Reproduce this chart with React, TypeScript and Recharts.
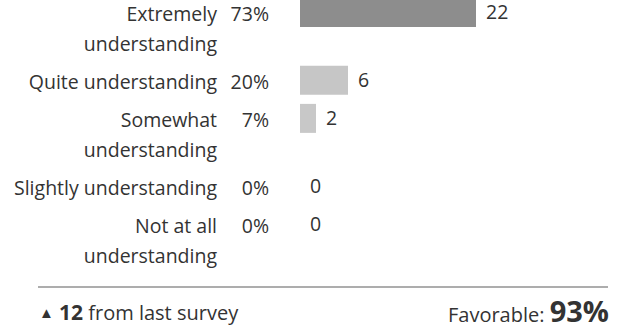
import React from 'react';
import { BarChart, Bar, XAxis, YAxis, Cell, LabelList } from 'recharts';

// Survey answers, top to bottom
const categories = [
    'Extremely\nunderstanding',
    'Quite understanding',
    'Somewhat\nunderstanding',
    'Slightly understanding',
    'Not at all\nunderstanding',
];
const counts = [22, 6, 2, 0, 0];
const percents = [73, 20, 7, 0, 0];
const totalResponses = 30;
const changeFromLast = 12;
const favorable = 93;

const barColors = ['#8d8d8d', '#c6c6c6', '#c8c8c8', '#c8c8c8', '#c8c8c8'];
const textColor = '#333333';
const font = '"Open Sans", sans-serif';
const fontSize = 19.5;

// each extra label line pushes the next row down by this much (in row units)
const LINE_UNIT = 0.78;

const positions: number[] = [];
categories.reduce((acc, c) => {
    positions.push(acc);
    return acc + 1 + (c.split('\n').length - 1) * LINE_UNIT;
}, 0);

const data = categories.map((name, i) => ({
    name,
    count: counts[i],
    percent: percents[i],
    pos: positions[i],
}));

const nearestRow = (v: number) => {
    let best = 0;
    positions.forEach((p, i) => {
        if (Math.abs(p - v) < Math.abs(positions[best] - v)) best = i;
    });
    return best;
};

const RowLabel = (props: any) => {
    const { x, y, payload } = props;
    const i = nearestRow(payload.value);
    const lines = categories[i].split('\n');
    return (
        <g fontFamily={font} fontSize={fontSize} fill={textColor}>
            <text x={x - 83} y={y + 2} textAnchor="end">
                {lines.map((l, k) => (
                    <tspan key={k} x={x - 83} dy={k === 0 ? '0.35em' : 30}>
                        {l}
                    </tspan>
                ))}
            </text>
            <text x={x - 31} y={y + 2} dy="0.35em" textAnchor="end">
                {percents[i]}%
            </text>
        </g>
    );
};

const App: React.FC = () => {
    return (
        <div
            style={{
                position: 'absolute',
                left: 0,
                top: 0,
                width: 620,
                height: 328,
                background: '#fff',
                fontFamily: font,
                color: textColor,
            }}
        >
            <BarChart
                width={620}
                height={270}
                data={data}
                layout="vertical"
                margin={{ top: 0, right: 80, bottom: 0, left: 0 }}
            >
                <XAxis type="number" dataKey="count" domain={[0, totalResponses]} hide />
                <YAxis
                    type="number"
                    dataKey="pos"
                    domain={[-0.315, 6.77]}
                    ticks={positions}
                    interval={0}
                    tick={<RowLabel />}
                    width={300}
                    axisLine={false}
                    tickLine={false}
                    tickSize={0}
                    tickMargin={0}
                    allowDataOverflow
                />
                {/* tiny min size keeps zero rows so their "0" labels still show */}
                <Bar dataKey="count" barSize={29} minPointSize={0.01} isAnimationActive={false}>
                    {data.map((d, i) => (
                        <Cell key={`cell-${i}`} fill={barColors[i]} />
                    ))}
                    <LabelList
                        dataKey="count"
                        position="right"
                        offset={10}
                        fill={textColor}
                        fontSize={fontSize}
                        fontFamily={font}
                    />
                </Bar>
            </BarChart>

            <div
                style={{
                    position: 'absolute',
                    left: 38,
                    top: 286,
                    width: 570,
                    height: 2,
                    background: '#adadad',
                }}
            />
            <div
                style={{
                    position: 'absolute',
                    left: 39,
                    top: 298,
                    width: 570,
                    height: 30,
                    display: 'flex',
                    justifyContent: 'space-between',
                    alignItems: 'center',
                    fontSize: 20,
                    lineHeight: '30px',
                    whiteSpace: 'nowrap',
                }}
            >
                <span>
                    <span style={{ fontSize: 15, position: 'relative', top: -2 }}>▲</span>{' '}
                    <b style={{ fontSize: 21 }}>{changeFromLast}</b> from last survey
                </span>
                <span>
                    Favorable: <b style={{ fontSize: 29 }}>{favorable}%</b>
                </span>
            </div>
        </div>
    );
};

export default App;
